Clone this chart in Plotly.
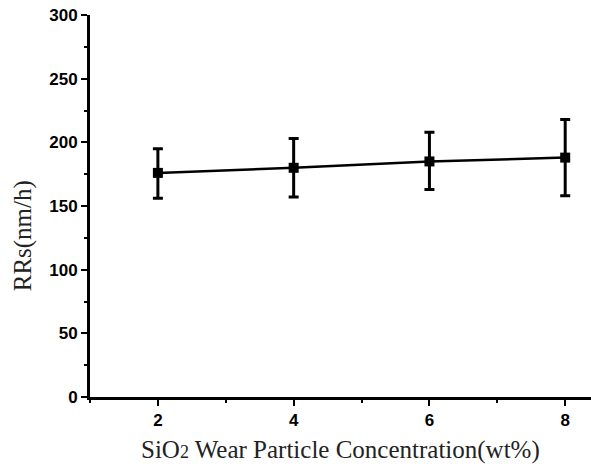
import plotly.graph_objects as go

conc = [2, 4, 6, 8]
rrs = [176, 180, 185, 188]
err_plus = [19, 23, 23, 30]
err_minus = [20, 23, 22, 30]

x_ticks = [2, 4, 6, 8]
y_ticks = [0, 50, 100, 150, 200, 250, 300]

fig = go.Figure()
fig.add_trace(go.Scatter(
    x=conc, y=rrs, mode="lines+markers",
    line=dict(color="black", width=2.5),
    marker=dict(symbol="square", size=10, color="black"),
    error_y=dict(type="data", symmetric=False, array=err_plus, arrayminus=err_minus,
                 color="black", thickness=3, width=5),
    showlegend=False,
))

tickfont = dict(family="Liberation Sans", size=17, color="black", weight=700)
fig.update_layout(
    width=591, height=466,
    margin=dict(l=90, r=0, t=15, b=69),
    paper_bgcolor="white", plot_bgcolor="white",
    xaxis=dict(range=[1.0, 8.38], tickvals=x_ticks, showline=True, linewidth=3, linecolor="black",
               ticks="outside", ticklen=6, tickwidth=2, tickcolor="black",
               minor=dict(dtick=1, ticks="outside", ticklen=3, tickwidth=2, tickcolor="black"),
               showgrid=False, zeroline=False, tickfont=tickfont),
    yaxis=dict(range=[0, 300], tickvals=y_ticks, showline=True, linewidth=3, linecolor="black",
               ticks="outside", ticklen=6, tickwidth=2, tickcolor="black",
               minor=dict(dtick=25, ticks="outside", ticklen=3, tickwidth=2, tickcolor="black"),
               showgrid=False, zeroline=False, tickfont=tickfont, ticklabeloverflow="allow"),
    annotations=[
        dict(text="SiO<span style='font-size:18px'>2</span> Wear Particle Concentration(wt%)",
             xref="paper", yref="paper",
             x=0.5, y=-0.139, xanchor="center", yanchor="middle", showarrow=False,
             font=dict(family="Liberation Serif", size=25, color="#222")),
        dict(text="RRs(nm/h)", xref="paper", yref="paper", textangle=-90,
             x=-0.132, y=0.423, xanchor="center", yanchor="middle", showarrow=False,
             font=dict(family="Liberation Serif", size=25, color="#222")),
    ],
)
fig.write_html("out.html", config={"displayModeBar": False},
               post_script="document.body.style.margin='0';")
